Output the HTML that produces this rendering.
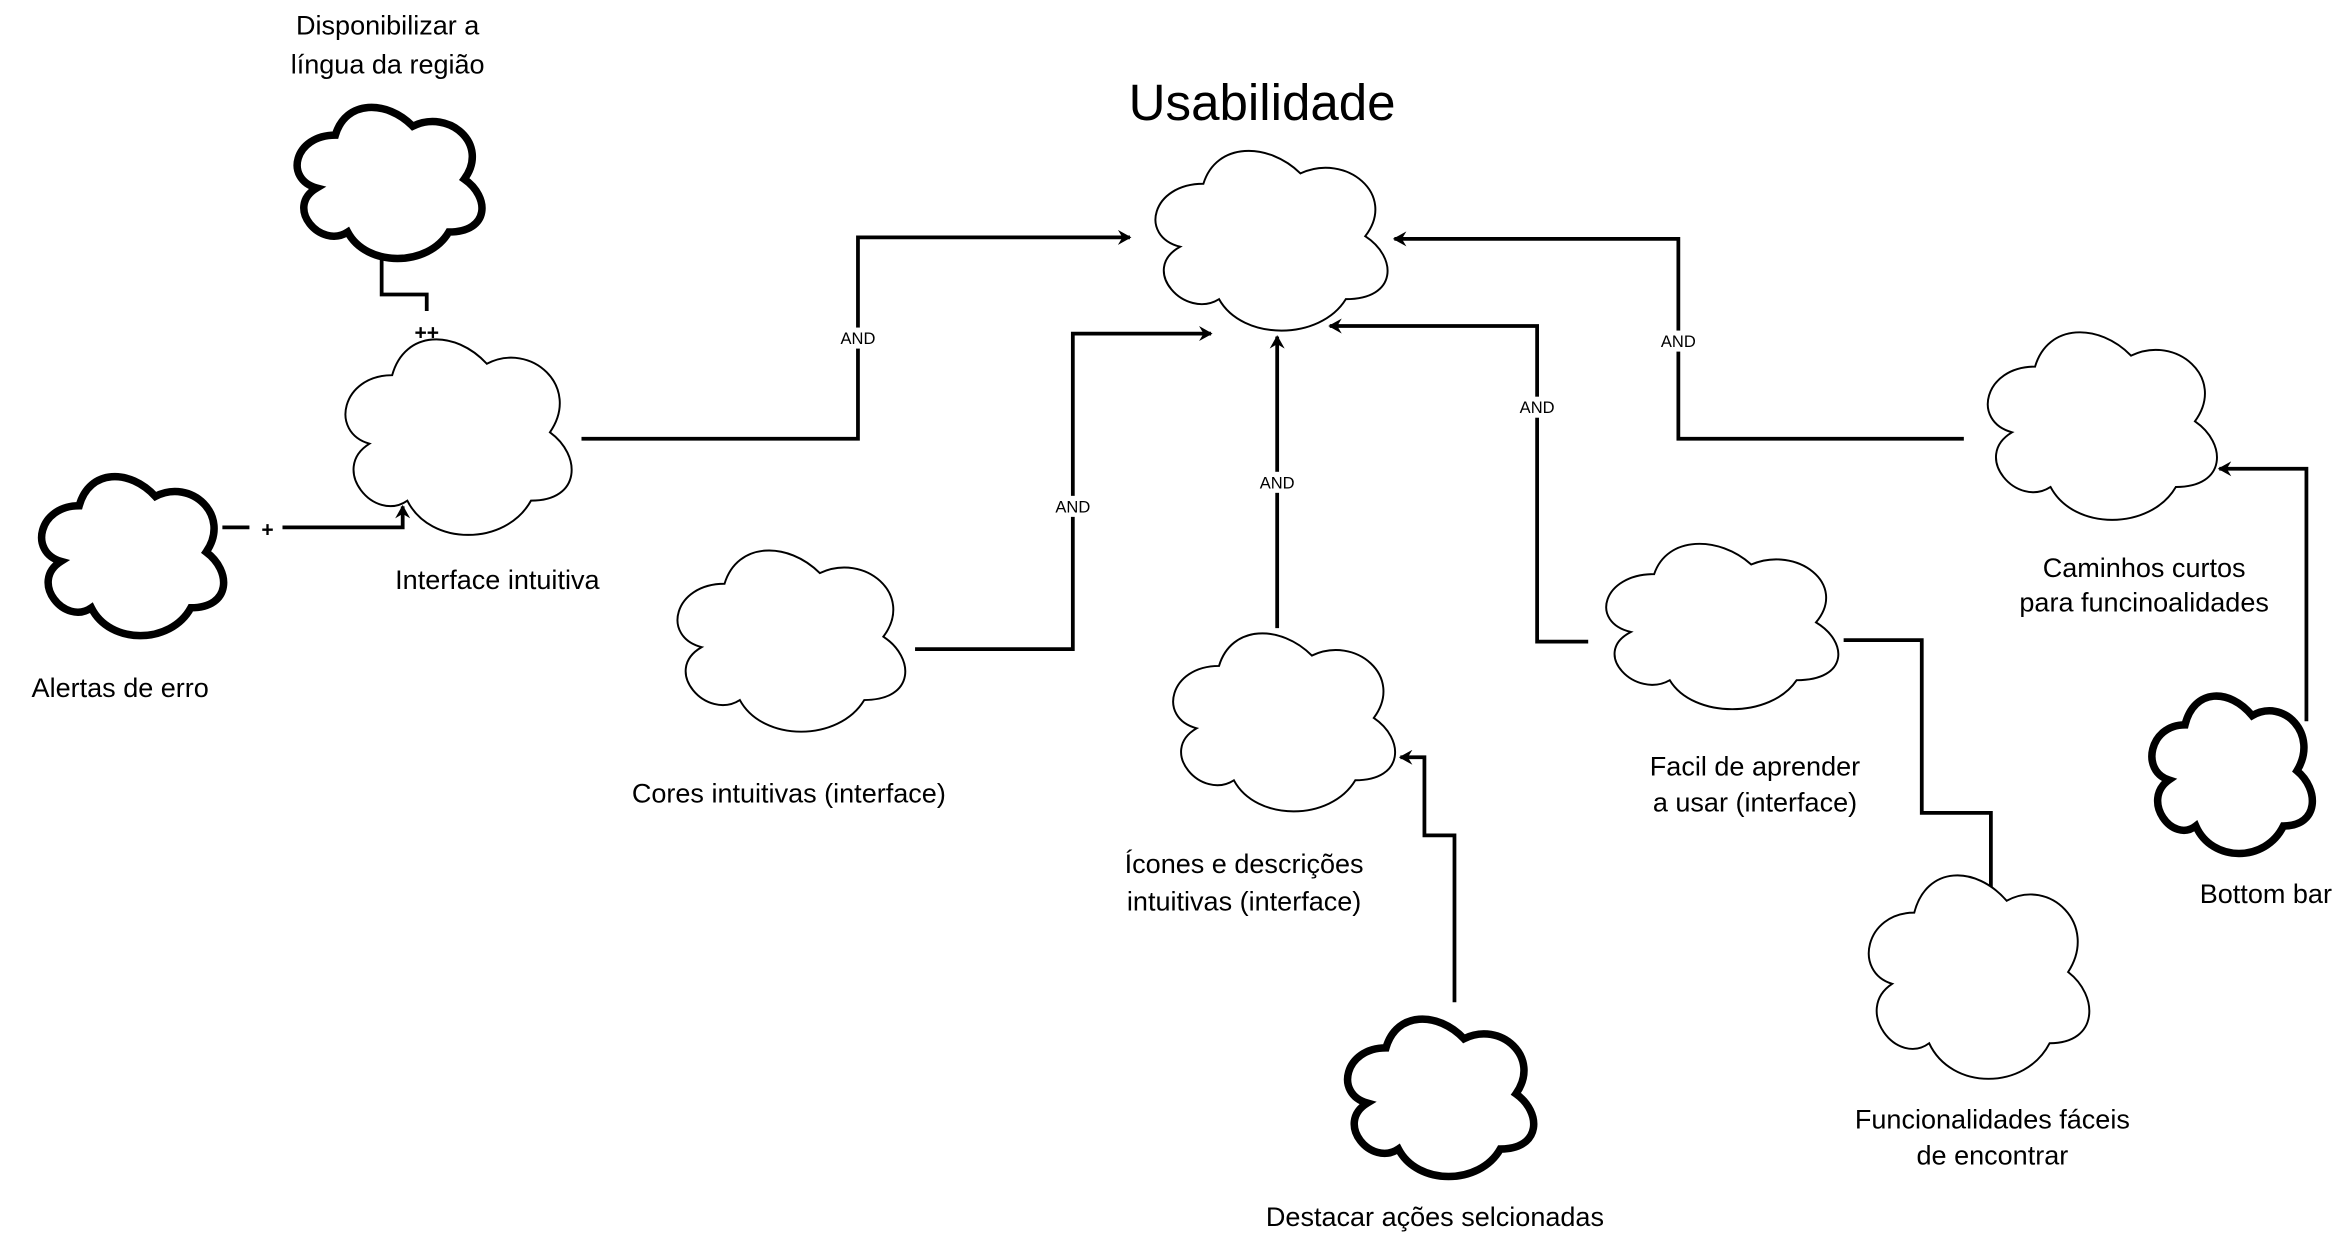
<!DOCTYPE html>
<html><head><meta charset="utf-8"><style>
html,body{margin:0;padding:0;background:#fff;}
svg{display:block}
text{font-family:"Liberation Sans",sans-serif;fill:#000;text-anchor:middle}
</style></head><body>
<svg id="s" width="2350" height="1236" viewBox="0 0 1564 822.6" xmlns="http://www.w3.org/2000/svg">
<defs>
<marker id="a" markerWidth="10" markerHeight="10" refX="8" refY="5" orient="auto" markerUnits="userSpaceOnUse"><path d="M0,0 L9,5 L0,10 L3,5 Z" fill="#000"/></marker>
</defs>
<g fill="none" stroke="#000" stroke-width="2.5">
<path d="M387,292 H571 V158 H752" marker-end="url(#a)"/>
<path d="M609,432 H714 V222 H806" marker-end="url(#a)"/>
<path d="M850,418 V224" marker-end="url(#a)"/>
<path d="M1057,427 H1023 V217 H885" marker-end="url(#a)"/>
<path d="M1307,292 H1117 V159 H928" marker-end="url(#a)"/>
<path d="M1325,605 V541 H1279 V426 H1227"/>
<path d="M968,667 V556 H948 V504 H932" marker-end="url(#a)"/>
<path d="M1535,480 V312 H1477" marker-end="url(#a)"/>
<path d="M148,351 H166"/>
<path d="M188,351 H268 V337" marker-end="url(#a)"/>
<path d="M254,173 V196 H284 V207"/>
<path d="M284,232 V237" stroke-width="1.2"/>
</g>
<g id="clouds"></g>
<g font-size="11">
<rect x="555" y="218" width="32" height="14" fill="#fff"/><text x="571" y="229">AND</text>
<rect x="698" y="330" width="32" height="14" fill="#fff"/><text x="714" y="341">AND</text>
<rect x="834" y="314" width="32" height="14" fill="#fff"/><text x="850" y="325">AND</text>
<rect x="1007" y="264" width="32" height="14" fill="#fff"/><text x="1023" y="275">AND</text>
<rect x="1101" y="220" width="32" height="14" fill="#fff"/><text x="1117" y="231">AND</text>
</g>
<g font-size="14" font-weight="bold"><text x="178" y="357">+</text><text x="284" y="226">++</text></g>
<text x="840" y="80" font-size="34">Usabilidade</text>
<g font-size="18">
<text x="258" y="23">Disponibilizar a</text>
<text x="258" y="49">língua da região</text>
<text x="331" y="392">Interface intuitiva</text>
<text x="80" y="464">Alertas de erro</text>
<text x="525" y="534">Cores intuitivas (interface)</text>
<text x="828" y="581">Ícones e descrições</text>
<text x="828" y="606">intuitivas (interface)</text>
<text x="955" y="816">Destacar ações selcionadas</text>
<text x="1168" y="516">Facil de aprender</text>
<text x="1168" y="540">a usar (interface)</text>
<text x="1326" y="751">Funcionalidades fáceis</text>
<text x="1326" y="775">de encontrar</text>
<text x="1427" y="384">Caminhos curtos</text>
<text x="1427" y="407">para funcinoalidades</text>
<text x="1508" y="601">Bottom bar</text>
</g>
</svg>
<script>
var C=[[763,107,162,113,1.3],[193,77,129,95,5],[224,233,158,123,1.3],[23,323,127,100,5],[445,373,159,114,1.3],[775,428,155,112,1.3],[892,684,130,99,5],[1063,368,162,104,1.3],[1238,590,154,128,1.3],[1317,228,160,118,1.3],[1428,469,112,99,5]];
var g=document.getElementById('clouds'),h='';
C.forEach(function(c){var w=c[2]/0.94,H=c[3]/0.81,x=c[0]-0.03*w,y=c[1]-0.14*H;
function X(f){return (x+f*w).toFixed(1)}function Y(f){return (y+f*H).toFixed(1)}
var d='M'+X(.25)+','+Y(.25)+' C'+X(.05)+','+Y(.25)+' '+X(0)+','+Y(.5)+' '+X(.16)+','+Y(.55)+' C'+X(0)+','+Y(.66)+' '+X(.18)+','+Y(.9)+' '+X(.31)+','+Y(.8)+' C'+X(.4)+','+Y(1)+' '+X(.7)+','+Y(1)+' '+X(.8)+','+Y(.8)+' C'+X(1)+','+Y(.8)+' '+X(1)+','+Y(.6)+' '+X(.875)+','+Y(.5)+' C'+X(1)+','+Y(.3)+' '+X(.8)+','+Y(.1)+' '+X(.625)+','+Y(.2)+' C'+X(.5)+','+Y(.05)+' '+X(.3)+','+Y(.05)+' '+X(.25)+','+Y(.25)+' Z';
h+='<path d="'+d+'" fill="#fff" stroke="#000" stroke-width="'+c[4]+'"/>';});
g.innerHTML=h;
</script>
</body></html>
